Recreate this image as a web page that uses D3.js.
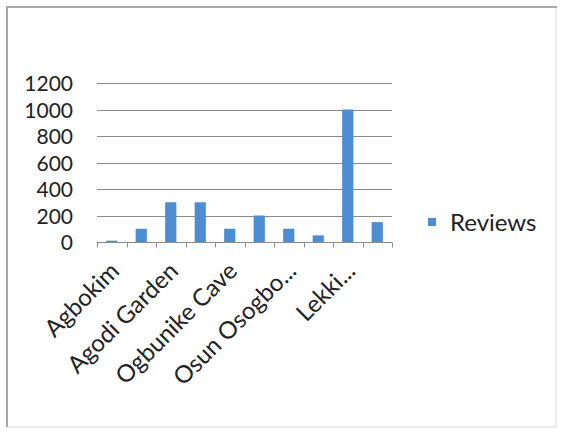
<!DOCTYPE html>
<html>
<head>
<meta charset="utf-8">
<script src="https://cdn.jsdelivr.net/npm/d3@7"></script>
<style>
  body { margin: 0; background: #fff; }
  svg text { font-family: Lato, "Open Sans", sans-serif; fill: #222; }
</style>
</head>
<body>
<svg id="chart"></svg>
<script>
// chart data
var categories = ["Agbokim", "Idanre Hill", "Agodi Garden", "Obudu Ranch", "Ogbunike Cave",
                  "Olumo Rock", "Osun Osogbo Grove", "Yankari Park", "Lekki Conservation Centre", "Zuma Rock"];
var reviews = [10, 100, 300, 300, 100, 200, 100, 50, 1000, 150];
var tickLabels = ["Agbokim", "", "Agodi Garden", "", "Ogbunike Cave", "", "Osun Osogbo...", "", "Lekki...", ""];
var yTicks = [0, 200, 400, 600, 800, 1000, 1200];
var seriesName = "Reviews";

var width = 563, height = 434;
var svg = d3.select("#chart").attr("width", width).attr("height", height);

// outer frame, darker on top/left like the screenshot
svg.append("rect").attr("x", 7).attr("y", 7).attr("width", 549).attr("height", 420)
   .attr("fill", "#fff").attr("stroke", "#e6e6e6").attr("stroke-width", 1.5);
svg.append("path").attr("d", "M7,427V7H557")
   .attr("fill", "none").attr("stroke", "#a8a8a8").attr("stroke-width", 2);

var plot = { left: 97, right: 392, top: 83, bottom: 242 };

var x = d3.scaleBand().domain(categories).range([plot.left, plot.right]).paddingInner(0).paddingOuter(0);
var y = d3.scaleLinear().domain([0, 1200]).range([plot.bottom, plot.top]);

// gridlines
svg.append("g").selectAll("line").data(yTicks.filter(d => d > 0)).enter().append("line")
   .attr("x1", plot.left).attr("x2", plot.right)
   .attr("y1", d => Math.round(y(d)) + 0.5).attr("y2", d => Math.round(y(d)) + 0.5)
   .attr("stroke", "#8c8c8c").attr("stroke-width", 1);

// y axis labels
var yAxis = d3.axisLeft(y).tickValues(yTicks).tickSize(0).tickPadding(0).tickFormat(d3.format("d"));
var gy = svg.append("g").attr("transform", "translate(73,0)").call(yAxis);
gy.select(".domain").remove();
gy.selectAll("text").style("font-size", "21px").attr("dy", "0.36em");

// bars
var barW = x.bandwidth() * 0.38;
svg.append("g").selectAll("rect").data(reviews).enter().append("rect")
   .attr("x", (d, i) => x(categories[i]) + (x.bandwidth() - barW) / 2)
   .attr("width", barW)
   .attr("y", d => y(d))
   .attr("height", d => y(0) - y(d))
   .attr("fill", "#4d8dd3");

// x axis line with ticks between categories
var gx = svg.append("g").attr("transform", "translate(0," + (Math.round(y(0)) + 0.5) + ")");
gx.append("line").attr("x1", plot.left).attr("x2", plot.right)
  .attr("stroke", "#8c8c8c");
var bounds = categories.map(c => x(c)).concat([plot.right]);
gx.selectAll(".tk").data(bounds).enter().append("line")
  .attr("x1", d => Math.round(d) + 0.5).attr("x2", d => Math.round(d) + 0.5)
  .attr("y1", 0).attr("y2", 5).attr("stroke", "#8c8c8c");

// rotated category labels
gx.selectAll(".lbl").data(categories).enter().append("text")
  .attr("transform", (d, i) => "translate(" + (x(d) + x.bandwidth() / 2 + 3) + ",24) rotate(-45)")
  .attr("text-anchor", "end")
  .attr("dy", "0.35em")
  .style("font-size", "24px")
  .text((d, i) => tickLabels[i]);

// legend
var lg = svg.append("g").attr("transform", "translate(428,218)");
lg.append("rect").attr("width", 8).attr("height", 8).attr("fill", "#4d8dd3");
lg.append("text").attr("x", 22).attr("y", 4).attr("dy", "0.36em")
  .style("font-size", "24px").text(seriesName);
</script>
</body>
</html>
